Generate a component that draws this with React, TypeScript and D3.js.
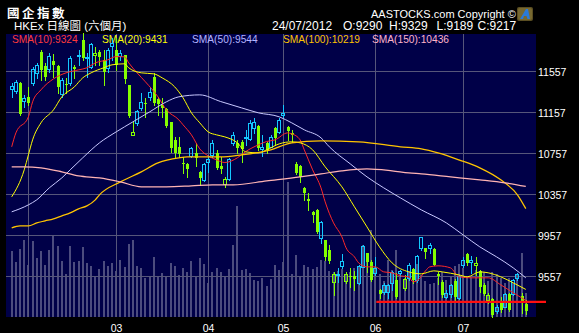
import React, { useEffect } from 'react';
import * as d3 from 'd3';

// ---- data ----
const openP = [11386,11367,11445,11269,11311,11445,11542,11747,11611,11581, 11662,11611,11337,11435,11448,11604,11708,11864,11692,11604, 11718,11750,11669,11591,11806,11767,11708,11718,11425,10937, 11054,11204,11253,11311,11506,11289,11230,11191,11064,10889, 10823,10667,10654,10733,10765,10576,10498,10677,10742,10762, 10635,10459,10508,10862,10859,10872,10908,10898,11006,11025, 10801,10859,10823,11006,10970,11133,11016,10957,10654,10635, 10417,10310,10189,10206,9930,9913,9815,9506,9572,9659, 9516,9562,9562,9491,9653,9783,9701,9588,9425,9409, 9406,9491,9523,9588,9442,9539,9627,9518,9832,9832, 9832,9822,9581,9506,9360,9386,9516,9344,9669,9777, 9701,9666,9614,9474,9328,9335,9223,9295,9262,9386, 9386,9539,9367,9290];
const highP = [11445,11474,11455,11328,11409,11604,11640,11767,11640,11737, 11728,11620,11494,11494,11708,11620,11767,11933,11737,11835, 11799,11767,11767,11786,11884,11884,11767,11718,11425,11067, 11181,11350,11298,11409,11542,11311,11298,11201,11067,10921, 10921,10726,10667,10823,10859,10586,10664,10742,10889,10791, 10726,10528,10713,10970,10889,10889,10986,11084,11103,11035, 10937,10872,10937,11016,11103,11230,11025,10986,10677,10645, 10433,10369,10199,10216,10101,9913,9864,9604,9637,9776, 9604,9637,9614,9669,9864,9789,9718,9744,9432,9497, 9484,9614,9588,9620,9572,9686,9637,9767,9945,9835, 9881,9832,9601,9523,9425,9484,9530,9572,9744,9783, 9757,9750,9620,9491,9396,9344,9279,9360,9396,9396, 9530,9594,9393,9329];
const lowP = [11308,11347,11133,11211,11230,11425,11494,11474,11474,11552, 11506,11347,11308,11347,11425,11494,11620,11669,11506,11591, 11620,11620,11425,11555,11669,11572,11669,11445,11113,10937, 11035,11181,11116,11279,11230,11133,11113,11015,10772,10713, 10723,10570,10531,10723,10635,10450,10492,10579,10726,10606, 10567,10430,10498,10840,10762,10677,10840,10889,10957,10791, 10733,10762,10820,10840,10957,11116,10889,10869,10557,10482, 10303,10206,10092,9981,9887,9718,9686,9377,9506,9637, 9491,9457,9425,9484,9647,9604,9516,9572,9344,9386, 9347,9425,9344,9562,9425,9523,9491,9506,9816,9734, 9783,9669,9484,9357,9344,9360,9328,9335,9653,9669, 9588,9572,9409,9377,9298,9165,9204,9214,9256,9220, 9377,9523,9198,9189];
const closeP = [11415,11457,11142,11301,11253,11581,11620,11572,11503,11708, 11620,11409,11474,11425,11689,11581,11718,11689,11701,11825, 11737,11695,11555,11767,11835,11620,11737,11484,11123,10970, 11175,11262,11240,11360,11250,11240,11204,11025,10811,10762, 10752,10654,10603,10814,10710,10518,10654,10703,10859,10616, 10609,10508,10703,10937,10811,10801,10921,11057,11064,10811, 10820,10791,10921,10908,11084,11155,10979,10937,10570,10528, 10369,10296,10157,9994,10092,9750,9711,9581,9586,9708, 9581,9549,9530,9659,9857,9701,9523,9637,9386,9474, 9474,9604,9360,9614,9530,9669,9523,9757,9939,9799, 9864,9669,9562,9377,9399,9474,9354,9562,9718,9686, 9718,9692,9452,9386,9381,9181,9257,9230,9386,9230, 9523,9581,9321,9217];
// volume, relative units
const volume = [66,55,68,77,52,76,59,66,52,67, 81,71,56,43,71,55,56,70,54,51, 40,48,56,51,54,46,57,50,73,77, 51,49,39,40,60,41,44,41,54,51, 42,49,45,56,40,59,53,34,45,49, 45,41,48,72,111,47,48,44,37,36, 39,31,38,52,47,55,135,43,62,41, 52,50,48,50,57,56,46,45,46,48, 43,45,49,51,72,64,87,50,43,36, 57,47,67,44,39,46,38,53,42,36, 33,34,39,45,37,40,51,53,49,41, 41,47,39,45,36,45,43,39,34,39, 34,43,64,24];

// moving averages: [candle index, value]
const sma10 = [[0,10822],[1,10958],[4,11115],[5,11261],[7,11378],[10,11485],[13,11544],[16,11573],[18,11593],[20,11641],[23,11671],[25,11703],[27,11700],[28,11641],[30,11544],[32,11456],[35,11310],[37,11183],[40,11085],[41,11037],[43,10939],[45,10802],[47,10734],[49,10695],[51,10669],[54,10715],[56,10776],[59,10841],[61,10874],[63,10890],[66,10958],[67,10949],[69,10890],[70,10793],[72,10598],[74,10422],[75,10285],[77,10080],[79,9944],[80,9837],[82,9749],[83,9690],[85,9651],[87,9651],[89,9602],[91,9593],[93,9563],[95,9554],[96,9505],[97,9515],[99,9612],[100,9651],[102,9661],[105,9641],[107,9554],[110,9544],[114,9544],[117,9476],[120,9398],[122,9349],[123,9324]];
const sma20 = [[0,10334],[3,10598],[4,10744],[5,10890],[7,11056],[10,11183],[12,11310],[15,11407],[17,11495],[19,11544],[22,11593],[24,11622],[27,11632],[28,11593],[31,11544],[34,11534],[36,11495],[39,11407],[41,11300],[43,11154],[45,11056],[47,10968],[49,10939],[51,10919],[54,10861],[56,10773],[59,10763],[61,10793],[64,10851],[67,10871],[69,10861],[72,10793],[75,10627],[79,10432],[82,10237],[85,10041],[88,9846],[91,9690],[95,9602],[98,9583],[101,9612],[103,9602],[107,9573],[109,9554],[112,9602],[114,9593],[117,9554],[120,9495],[123,9431]];
const sma50 = [[0,10188],[4,10256],[6,10305],[9,10422],[12,10519],[14,10598],[17,10715],[21,10861],[25,10968],[29,11066],[33,11163],[37,11261],[40,11310],[45,11329],[50,11264],[55,11202],[59,11154],[64,11115],[67,11056],[70,10988],[74,10910],[76,10822],[81,10656],[85,10529],[89,10422],[93,10324],[98,10207],[104,10080],[108,9963],[112,9846],[116,9749],[120,9641],[123,9544]];
const sma100 = [[0,10032],[2,10051],[4,10051],[6,10080],[8,10100],[10,10120],[12,10149],[14,10178],[16,10217],[18,10246],[20,10305],[21,10354],[26,10480],[31,10578],[35,10666],[40,10715],[42,10724],[50,10724],[55,10744],[62,10793],[67,10861],[74,10880],[83,10871],[93,10822],[98,10802],[102,10763],[107,10695],[112,10617],[117,10500],[121,10354],[123,10219]];
const sma150 = [[0,10627],[3,10627],[7,10617],[12,10578],[16,10539],[21,10519],[26,10480],[31,10432],[37,10432],[43,10441],[48,10451],[53,10451],[61,10490],[69,10529],[74,10558],[79,10588],[85,10607],[91,10588],[95,10568],[98,10558],[105,10529],[112,10500],[118,10471],[123,10436]];

const monthStart = [4, 25, 47, 65, 87, 108];
const monthLabel = ['', '03', '04', '05', '06', '07'];
const priceTicks = [9557, 9957, 10357, 10757, 11157, 11557];
const supportLevel = 9310;
const supportFrom = 87;
const lastDate = '24/07/2012';

const ARIAL = '"Liberation Sans", Arial, sans-serif';
const CJK = '"Noto Sans CJK TC", "Noto Sans CJK SC", sans-serif';

export default function App() {
  useEffect(() => {
    document.body.style.margin = '0';
    document.body.style.background = '#000';
  }, []);

  const W = 579, H = 333;
  const L = 6, R = 536, T = 34, B = 317;
  const n = openP.length;
  const x = d3.scaleLinear().domain([0, n - 1]).range([11.7, 525.8]);
  const y = d3.scaleLinear().domain([9557, 11557]).range([276.5, 71.5]);
  const yv = d3.scaleLinear().domain([0, 100]).range([B, B - 100]);

  const CYAN = '#14c8ff';
  const GREEN = '#84ff00';
  const GRID = '#56567a';

  const line = d3.line<number[]>()
    .x(d => x(d[0]))
    .y(d => y(d[1]))
    .curve(d3.curveMonotoneX);

  const series = [
    { n: 10, pts: sma10, color: '#ff2828', text: '#ff3a3a', w: 1, lx: 12 },
    { n: 20, pts: sma20, color: '#ffff00', text: '#ffff00', w: 1, lx: 102 },
    { n: 50, pts: sma50, color: '#c8c8ff', text: '#b4b4ff', w: 1, lx: 192 },
    { n: 100, pts: sma100, color: '#ffc400', text: '#ffc400', w: 1.25, lx: 283 },
    { n: 150, pts: sma150, color: '#ffb4b4', text: '#ffb4c8', w: 1.25, lx: 372 },
  ];

  const last = n - 1;

  return (
    <svg width={W} height={H} style={{ display: 'block' }} xmlns="http://www.w3.org/2000/svg">
      <rect x={0} y={0} width={W} height={H} fill="#000" />
      {/* header */}
      <text x={7} y={17.5} fill="#fff" fontFamily={CJK} fontWeight="bold" fontSize={12.5} letterSpacing={2.5}>國企指數</text>
      <text x={14} y={29.8} fill="#fff" fontFamily={`${ARIAL.split(',')[0]}, ${CJK}`} fontSize={11.5}>HKEx 日線圖 (六個月)</text>
      <text x={371} y={17.5} fill="#fff" fontFamily={ARIAL} fontSize={11}>AASTOCKS.com Copyright ©</text>
      <g>
        <rect x={517} y={7} width={16} height={14} rx={2} fill="#5a4e22" />
        <rect x={518} y={8} width={14} height={12} rx={2} fill="#8a7a3a" opacity={0.6} />
        <path d="M520 19 L526 9 L528 9 L530 19 L527.5 19 L526.5 16 L524 16 L523 19 Z" fill="#2a7ad8" />
      </g>
      <text y={30.3} fill="#fff" fontFamily={ARIAL} fontSize={12}>
        <tspan x={272}>{lastDate}</tspan>
        <tspan x={343}>{`O:${openP[last]}`}</tspan>
        <tspan x={389}>{`H:${highP[last]}`}</tspan>
        <tspan x={436.5}>{`L:${lowP[last]}`}</tspan>
        <tspan x={477.5}>{`C:${closeP[last]}`}</tspan>
      </text>

      {/* plot background */}
      <rect x={L} y={T} width={R - L} height={B - T} fill="#000048" />

      {/* volume */}
      <g shapeRendering="crispEdges">
        {volume.map((v, i) => {
          const cx = Math.round(x(i));
          return <rect key={i} x={cx - 1} y={yv(v)} width={2} height={B - yv(v)} fill="#4c4c7e" />;
        })}
      </g>

      {/* grid */}
      <g shapeRendering="crispEdges" stroke={GRID} strokeWidth={1}>
        {priceTicks.map(t => (
          <line key={t} x1={L} x2={R} y1={Math.floor(y(t)) + 0.5} y2={Math.floor(y(t)) + 0.5} />
        ))}
        {monthStart.map(i => (
          <line key={i} x1={Math.round(x(i)) + 0.5} x2={Math.round(x(i)) + 0.5} y1={T} y2={B} />
        ))}
      </g>

      {/* legend */}
      {series.map(s => (
        <text key={s.n} x={s.lx} y={42.6} fill={s.text} fontFamily={ARIAL} fontSize={10.2}>
          {`SMA(${s.n}):${s.pts[s.pts.length - 1][1]}`}
        </text>
      ))}

      {/* candles */}
      <g shapeRendering="crispEdges">
        {openP.map((o, i) => {
          const c = closeP[i];
          const prev = i > 0 ? closeP[i - 1] : o;
          const color = c >= prev ? CYAN : GREEN;
          const hollow = c > o;
          const cx = Math.round(x(i));
          const yTop = Math.round(y(Math.max(o, c)));
          const yBot = Math.round(y(Math.min(o, c)));
          const yH = Math.round(y(highP[i]));
          const yL = Math.round(y(lowP[i]));
          if (hollow) {
            return (
              <g key={i} stroke={color} strokeWidth={1}>
                <line x1={cx + 0.5} x2={cx + 0.5} y1={yH} y2={yTop} />
                <line x1={cx + 0.5} x2={cx + 0.5} y1={yBot} y2={yL + 1} />
                <rect x={cx - 1.5} y={yTop + 0.5} width={3} height={Math.max(yBot - yTop, 1)} fill="none" />
              </g>
            );
          }
          return (
            <g key={i}>
              <line x1={cx + 0.5} x2={cx + 0.5} y1={yH} y2={yL + 1} stroke={color} strokeWidth={1} />
              <rect x={cx - 1} y={yTop} width={3} height={Math.max(yBot - yTop, 1)} fill={color} />
            </g>
          );
        })}
      </g>

      {/* moving averages */}
      {series.map(s => (
        <path key={s.n} d={line(s.pts as number[][]) || ''} fill="none" stroke={s.color} strokeWidth={s.w} />
      ))}

      {/* support line */}
      <line x1={x(supportFrom) + 1} x2={R + 10} y1={y(supportLevel)} y2={y(supportLevel)} stroke="#ff1010" strokeWidth={2.2} />

      {/* axes labels */}
      {priceTicks.map(t => (
        <text key={t} x={538} y={Math.floor(y(t)) + 5} fill="#fff" fontFamily={ARIAL} fontSize={10.5}>{t}</text>
      ))}
      {monthStart.map((i, k) => (
        <text key={i} x={Math.round(x(i)) + 0.5} y={331.5} fill="#fff" fontFamily={ARIAL} fontSize={10.5} textAnchor="middle">{monthLabel[k]}</text>
      ))}
    </svg>
  );
}
